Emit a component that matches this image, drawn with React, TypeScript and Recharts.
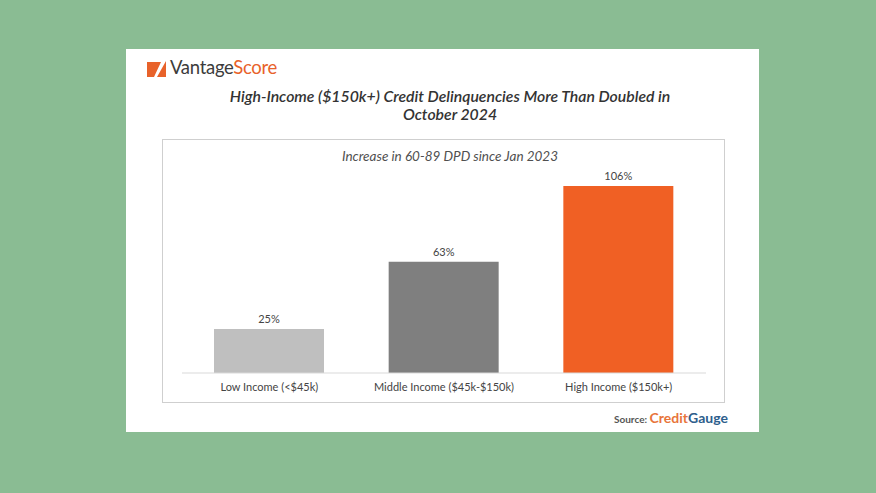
import React from 'react';
import { BarChart, Bar, XAxis, YAxis, Cell, LabelList } from 'recharts';

const categories = ['Low Income (<$45k)', 'Middle Income ($45k-$150k)', 'High Income ($150k+)'];
const increases = [25, 63, 106];
const barColors = ['#BFBFBF', '#7F7F7F', '#F06024'];

const chartData = categories.map((name, i) => ({ name, value: increases[i] }));

const FONT = 'Lato, "Open Sans", sans-serif';

export default function App() {
  return (
    <div
      style={{
        position: 'absolute',
        left: 0,
        top: 0,
        width: 876,
        height: 493,
        background: '#8ABC93',
        fontFamily: FONT,
        overflow: 'hidden',
      }}
    >
      {/* white card */}
      <div
        style={{
          position: 'absolute',
          left: 126,
          top: 49,
          width: 633,
          height: 383,
          background: '#FFFFFF',
        }}
      >
        {/* logo */}
        <svg style={{ position: 'absolute', left: 21, top: 9 }} width={19} height={19} viewBox="0 0 19 19">
          <rect x={0} y={0} width={19} height={19} fill="#E8622A" />
          <polygon points="0,0 19,0 19,3 10,19 7,19 14,4 0,4" fill="#FFFFFF" />
        </svg>
        <div
          style={{
            position: 'absolute',
            left: 44,
            top: 7,
            fontSize: 18.5,
            letterSpacing: -0.3,
            lineHeight: '22px',
          }}
        >
          <span style={{ color: '#3C3C3C' }}>Vantage</span>
          <span style={{ color: '#E8622A' }}>Score</span>
        </div>

        {/* title */}
        <div
          style={{
            position: 'absolute',
            left: 0,
            top: 38,
            width: 648,
            textAlign: 'center',
            fontStyle: 'italic',
            fontWeight: 600,
            fontSize: 15.8,
            lineHeight: '18px',
            color: '#333333',
          }}
        >
          High-Income ($150k+) Credit Delinquencies More Than Doubled in
          <br />
          October 2024
        </div>

        {/* chart box */}
        <div
          style={{
            position: 'absolute',
            left: 36,
            top: 90,
            width: 561,
            height: 262,
            border: '1px solid #CFCFCF',
            background: '#FFFFFF',
          }}
        >
          <div
            style={{
              position: 'absolute',
              left: 0,
              top: 8,
              width: 574,
              textAlign: 'center',
              fontStyle: 'italic',
              fontSize: 13.5,
              color: '#505050',
            }}
          >
            Increase in 60-89 DPD since Jan 2023
          </div>
          <BarChart
            width={561}
            height={262}
            data={chartData}
            margin={{ top: 46, right: 18, left: 19, bottom: 0 }}
            barSize={110}
          >
            <XAxis
              dataKey="name"
              height={29}
              axisLine={{ stroke: '#D9D9D9' }}
              tickLine={false}
              tick={{ fill: '#444444', fontSize: 11, fontFamily: FONT }}
              tickMargin={4}
              interval={0}
            />
            <YAxis hide domain={[0, 106]} />
            <Bar dataKey="value" isAnimationActive={false}>
              {chartData.map((d, i) => (
                <Cell key={d.name} fill={barColors[i]} />
              ))}
              <LabelList
                dataKey="value"
                position="top"
                offset={6}
                formatter={(v: any) => `${v}%`}
                style={{ fill: '#444444', fontSize: 11, fontFamily: FONT }}
              />
            </Bar>
          </BarChart>
        </div>

        {/* source */}
        <div
          style={{
            position: 'absolute',
            left: 488,
            top: 358,
            fontWeight: 700,
            whiteSpace: 'nowrap',
          }}
        >
          <span style={{ fontSize: 10, color: '#555555' }}>Source: </span>
          <span style={{ fontSize: 14, color: '#E8743A' }}>Credit</span>
          <span style={{ fontSize: 14, color: '#2E5E8C' }}>Gauge</span>
        </div>
      </div>
    </div>
  );
}
